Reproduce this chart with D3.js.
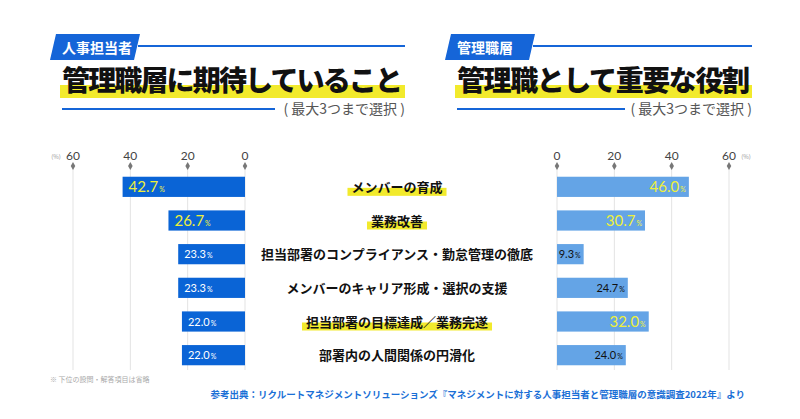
<!DOCTYPE html>
<html><head><meta charset="utf-8">
<script src="https://cdn.jsdelivr.net/npm/d3@7"></script>
<style>body{margin:0;background:#fff}svg{display:block;font-family:"Noto Sans CJK JP",sans-serif}</style>
</head><body><svg id="c" width="800" height="419"></svg>
<script>
const categories = ['メンバーの育成','業務改善','担当部署のコンプライアンス・勤怠管理の徹底','メンバーのキャリア形成・選択の支援','担当部署の目標達成／業務完遂','部署内の人間関係の円滑化'];
const hrValues = [42.7, 26.7, 23.3, 23.3, 22.0, 22.0];
const mgrValues = [46.0, 30.7, 9.3, 24.7, 32.0, 24.0];
const highlighted = [0, 1, 4];
const ticks = [0, 20, 40, 60];

const svg = d3.select('#c');
const y = d3.scaleBand().domain(d3.range(categories.length)).range([170, 372]).paddingInner(0.4).paddingOuter(0.2);
const xL = d3.scaleLinear().domain([0, 60]).range([245, 73]);
const xR = d3.scaleLinear().domain([0, 60]).range([557, 729]);
const yellow = '#f2ea2c', lblYellow = '#eef03a';

function header(x0, x1, tag, tagW, title, sub, lineEnd) {
  svg.append('path').attr('d', `M${x0 + 6},34 L${x0 + tagW + 6},34 L${x0 + tagW},60 L${x0},60 Z`).attr('fill', '#1565d8');
  svg.append('text').attr('x', x0 + 12).attr('y', 53).attr('fill', '#fff').attr('font-size', 14).attr('font-weight', 700).text(tag);
  svg.append('line').attr('x1', x0 + tagW + 4).attr('x2', x1).attr('y1', 46).attr('y2', 46).attr('stroke', '#1565d8').attr('stroke-width', 2);
  svg.append('rect').attr('x', x0 + 10).attr('y', 85).attr('width', x1 - x0 - 10).attr('height', 13).attr('fill', yellow);
  svg.append('text').attr('x', x0 + 12).attr('y', 91).attr('font-size', 28).attr('font-weight', 900).attr('fill', '#111').attr('textLength', x1 - x0 - 14).text(title);
  svg.append('line').attr('x1', x0 + 12).attr('x2', lineEnd).attr('y1', 109).attr('y2', 109).attr('stroke', '#1565d8').attr('stroke-width', 2);
  svg.append('text').attr('x', x1).attr('y', 114).attr('text-anchor', 'end').attr('font-size', 14).attr('fill', '#555').text(sub);
}
header(50, 405, '人事担当者', 84, '管理職層に期待していること', '( 最大3つまで選択 )', 275);
header(445, 752, '管理職層', 84, '管理職として重要な役割', '( 最大3つまで選択 )', 625);

function axis(x, side) {
  const g = svg.append('g');
  ticks.forEach(t => {
    g.append('line').attr('x1', x(t)).attr('x2', x(t)).attr('y1', 165).attr('y2', 370).attr('stroke', '#e3e3e3');
    g.append('text').attr('x', x(t)).attr('y', 160).attr('text-anchor', 'middle').attr('font-size', 12).attr('fill', '#444').attr('font-family', 'Lato,sans-serif').text(t);
    g.append('path').attr('d', d3.symbol(d3.symbolDiamond, 18)()).attr('transform', `translate(${x(t)},166)`).attr('fill', '#777');
  });
  const pct = side === 'L' ? x(60) - 17 : x(60) + 17;
  g.append('text').attr('x', pct).attr('y', 159).attr('text-anchor', 'middle').attr('font-size', 6).attr('fill', '#999').text('(%)');
}
axis(xL, 'L'); axis(xR, 'R');

function bars(vals, x, color, side) {
  vals.forEach((v, i) => {
    const x0 = Math.min(x(0), x(v)), w = Math.abs(x(v) - x(0));
    svg.append('rect').attr('x', x0).attr('y', y(i)).attr('width', w).attr('height', y.bandwidth()).attr('fill', color);
    const top = i < 2 || (side === 'R' && i === 4);
    const t = svg.append('text').attr('y', y(i) + y.bandwidth() / 2 + (top ? 5 : 4)).attr('fill', top ? lblYellow : (side === 'L' ? '#fff' : '#111'))
      .attr('font-family', 'Lato,sans-serif').attr('font-size', top ? 15 : 11);
    t.append('tspan').text(v.toFixed(1));
    t.append('tspan').attr('font-size', 7).attr('dx', 1).text('%');
    if (side === 'L') t.attr('x', x(v) + 6);
    else if (w > 50) t.attr('x', x(v) - 3).attr('text-anchor', 'end');
    else t.attr('x', x(v) - 25);
  });
}
bars(hrValues, xL, '#0a64d6', 'L');
bars(mgrValues, xR, '#64a4e6', 'R');

categories.forEach((c, i) => {
  const cy = y(i) + y.bandwidth() / 2;
  const t = svg.append('text').attr('x', 397).attr('y', cy + 5).attr('text-anchor', 'middle').attr('font-size', 13).attr('font-weight', 700).attr('fill', '#111').text(c);
  if (highlighted.includes(i)) {
    const w = t.node().getComputedTextLength();
    svg.insert('rect', 'text').attr('x', 397 - w / 2 - 4).attr('y', cy + 1).attr('width', w + 8).attr('height', 8).attr('fill', yellow);
  }
});

svg.append('text').attr('x', 50).attr('y', 382).attr('font-size', 7).attr('fill', '#aaa').text('※ 下位の設問・解答項目は省略');
svg.append('text').attr('x', 745).attr('y', 398).attr('text-anchor', 'end').attr('font-size', 9.5).attr('font-weight', 700).attr('fill', '#1a6fd6')
  .text('参考出典：リクルートマネジメントソリューションズ『マネジメントに対する人事担当者と管理職層の意識調査2022年』より');
</script></body></html>
